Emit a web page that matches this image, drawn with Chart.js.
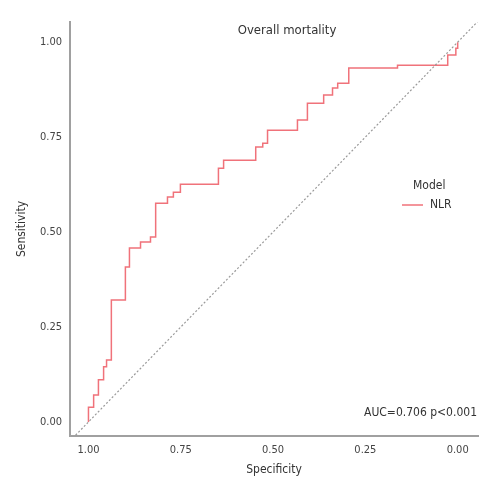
<!DOCTYPE html>
<html>
<head>
<meta charset="utf-8">
<script src="https://cdn.jsdelivr.net/npm/chart.js@4.4.1/dist/chart.umd.min.js"></script>
<style>
  html, body { margin: 0; padding: 0; background: #fff; }
  #wrap { width: 500px; height: 500px; }
</style>
</head>
<body>
<div id="wrap"><canvas id="roc" width="500" height="500"></canvas></div>
<script>
// ROC points for the NLR model
const specificity = [1, 1, 0.986, 0.973, 0.959, 0.951, 0.938, 0.900, 0.889, 0.859,
  0.832, 0.818, 0.786, 0.770, 0.751, 0.648, 0.634, 0.547, 0.528, 0.515,
  0.434, 0.407, 0.363, 0.339, 0.325, 0.295, 0.163, 0.027, 0.005, 0];
const sensitivity = [0, 0.039, 0.071, 0.111, 0.145, 0.163, 0.321, 0.408, 0.458, 0.474,
  0.487, 0.576, 0.592, 0.605, 0.626, 0.668, 0.689, 0.724, 0.734, 0.768,
  0.795, 0.839, 0.861, 0.879, 0.892, 0.932, 0.939, 0.966, 0.984, 1];
const tickValues = [0, 0.25, 0.5, 0.75, 1];
const xRange = [-0.055, 1.05];
const yRange = [-0.037, 1.053];

const FONT = "'Liberation Sans Narrow', 'DejaVu Sans Condensed', 'Liberation Sans', sans-serif";

// reference diagonal across the whole panel (sensitivity = 1 - specificity)
const diagonal = [
  { x: xRange[1], y: 1 - xRange[1] },
  { x: xRange[0], y: 1 - xRange[0] }
];

const rocPoints = specificity.map((s, i) => ({ x: s, y: sensitivity[i] }));

// text drawn inside the panel: title, legend, AUC label
const panelText = {
  id: 'panelText',
  afterDatasetsDraw(chart) {
    const ctx = chart.ctx;
    ctx.save();
    ctx.fillStyle = '#333';
    ctx.textBaseline = 'middle';
    ctx.font = '13px ' + FONT;
    ctx.textAlign = 'center';
    ctx.fillText('Overall mortality', 287, 31);

    ctx.font = '12px ' + FONT;
    ctx.textAlign = 'left';
    ctx.fillText('Model', 413, 186);
    ctx.fillText('NLR', 430, 205);
    ctx.strokeStyle = '#f0727a';
    ctx.lineWidth = 1.5;
    ctx.beginPath();
    ctx.moveTo(402, 205);
    ctx.lineTo(423, 205);
    ctx.stroke();

    ctx.textAlign = 'right';
    ctx.fillText('AUC=0.706 p<0.001', 477, 413);
    ctx.restore();
  }
};

new Chart(document.getElementById('roc'), {
  type: 'line',
  data: {
    datasets: [
      {
        label: 'diagonal',
        data: diagonal,
        borderColor: '#9a9a9a',
        borderWidth: 1.2,
        borderDash: [2, 2],
        pointRadius: 0,
        fill: false
      },
      {
        label: 'NLR',
        data: rocPoints,
        borderColor: '#f0727a',
        borderWidth: 1.5,
        pointRadius: 0,
        stepped: 'before',
        fill: false
      }
    ]
  },
  options: {
    responsive: false,
    animation: false,
    layout: { padding: { top: 22, right: 22, left: 0, bottom: 0 } },
    plugins: {
      legend: { display: false },
      tooltip: { enabled: false }
    },
    scales: {
      x: {
        type: 'linear',
        reverse: true,
        min: xRange[0],
        max: xRange[1],
        afterBuildTicks: (scale) => { scale.ticks = tickValues.map(v => ({ value: v })); },
        afterFit: (scale) => { scale.height = 64; },
        grid: { display: false },
        border: { display: true, color: '#a0a0a0', width: 2 },
        ticks: {
          padding: 0,
          color: '#444',
          font: { family: FONT, size: 11 },
          callback: (v) => Number(v).toFixed(2),
          maxRotation: 0
        },
        title: {
          display: true,
          text: 'Specificity',
          color: '#333',
          font: { family: FONT, size: 12 },
          padding: { top: 0, bottom: 23 }
        }
      },
      y: {
        type: 'linear',
        min: yRange[0],
        max: yRange[1],
        afterBuildTicks: (scale) => { scale.ticks = tickValues.map(v => ({ value: v })); },
        afterFit: (scale) => { scale.width = 70; },
        grid: { display: false },
        border: { display: true, color: '#a0a0a0', width: 2 },
        ticks: {
          padding: 0,
          color: '#444',
          font: { family: FONT, size: 11 },
          callback: (v) => Number(v).toFixed(2)
        },
        title: {
          display: true,
          text: 'Sensitivity',
          color: '#333',
          font: { family: FONT, size: 12 },
          padding: { top: 15, bottom: 0 }
        }
      }
    }
  },
  plugins: [panelText]
});
</script>
</body>
</html>
